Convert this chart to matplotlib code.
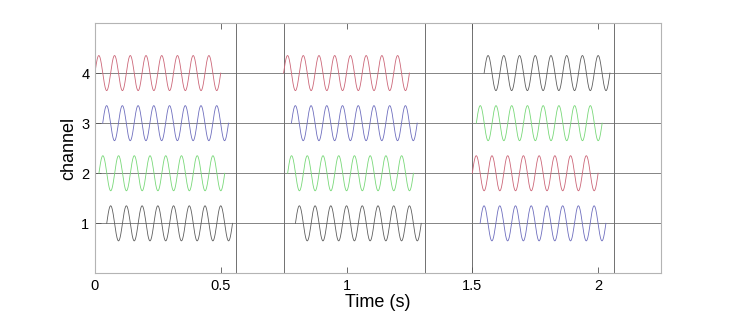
import numpy as np
import matplotlib
matplotlib.use("Agg")
import matplotlib.pyplot as plt

plt.rcParams['font.family'] = ['Liberation Sans', 'DejaVu Sans']

# --- chart data ---
channels = [1, 2, 3, 4]
segment_starts = [0.0, 0.75, 1.5]       # s, start of each trial block
segment_ends = [0.5625, 1.3125, 2.0625]  # s, end of each trial block
sine_freq = 16.0        # Hz
sine_duration = 0.5     # s
sine_amplitude = 0.35   # channel units

# delay (s) of the sine on each channel (ch1..ch4) in each segment
delays_seg1 = [0.047, 0.016, 0.031, 0.0]
delays_seg2 = [0.047, 0.016, 0.031, 0.0]
delays_seg3 = [0.031, 0.0, 0.016, 0.047]

# colour of the sine on each channel (ch1..ch4) in each segment
colors_seg1 = ["black", "green", "blue", "red"]
colors_seg2 = ["black", "green", "blue", "red"]
colors_seg3 = ["blue", "red", "green", "black"]

x_ticks = [0, 0.5, 1, 1.5, 2]
x_tick_labels = ["0", "0.5", "1", "1.5", "2"]
x_max = 2.25
y_max = 5

palette = {
    "red": "#cc6678",
    "green": "#78d878",
    "blue": "#6e6ebe",
    "black": "#5e5e5e",
}


def main():
    fig = plt.figure(figsize=(7.3, 3.15), dpi=100)
    ax = fig.add_axes([0.130, 0.132, 0.7755, 0.795])

    # grey baselines for every channel
    for ch in channels:
        ax.axhline(ch, color="#707070", lw=0.6, zorder=1)

    # segment borders
    for xs, xe in zip(segment_starts, segment_ends):
        ax.axvline(xs, color="#707070", lw=0.7, zorder=1)
        ax.axvline(xe, color="#707070", lw=0.7, zorder=1)

    all_delays = [delays_seg1, delays_seg2, delays_seg3]
    all_colors = [colors_seg1, colors_seg2, colors_seg3]
    t = np.linspace(0, sine_duration, 600)
    wave = sine_amplitude * np.sin(2 * np.pi * sine_freq * t)

    for start, delays, cols in zip(segment_starts, all_delays, all_colors):
        for ch, d, c in zip(channels, delays, cols):
            ax.plot(start + d + t, ch + wave, color=palette[c], lw=0.6, zorder=2)

    ax.set_xlim(0, x_max)
    ax.set_ylim(0, y_max)
    ax.set_xticks(x_ticks)
    ax.set_xticklabels(x_tick_labels)
    ax.set_yticks(channels)

    ax.tick_params(direction="in", top=True, right=False, length=4,
                   width=0.6, color="#555555", labelsize=10.5, pad=4)
    for side in ax.spines.values():
        side.set_color("#b4b4b4")
        side.set_linewidth(0.8)

    ax.set_xlabel("Time (s)", fontsize=13, labelpad=1)
    ax.set_ylabel("channel", fontsize=13, labelpad=3)

    fig.savefig("out.png", dpi=100)


if __name__ == "__main__":
    main()
